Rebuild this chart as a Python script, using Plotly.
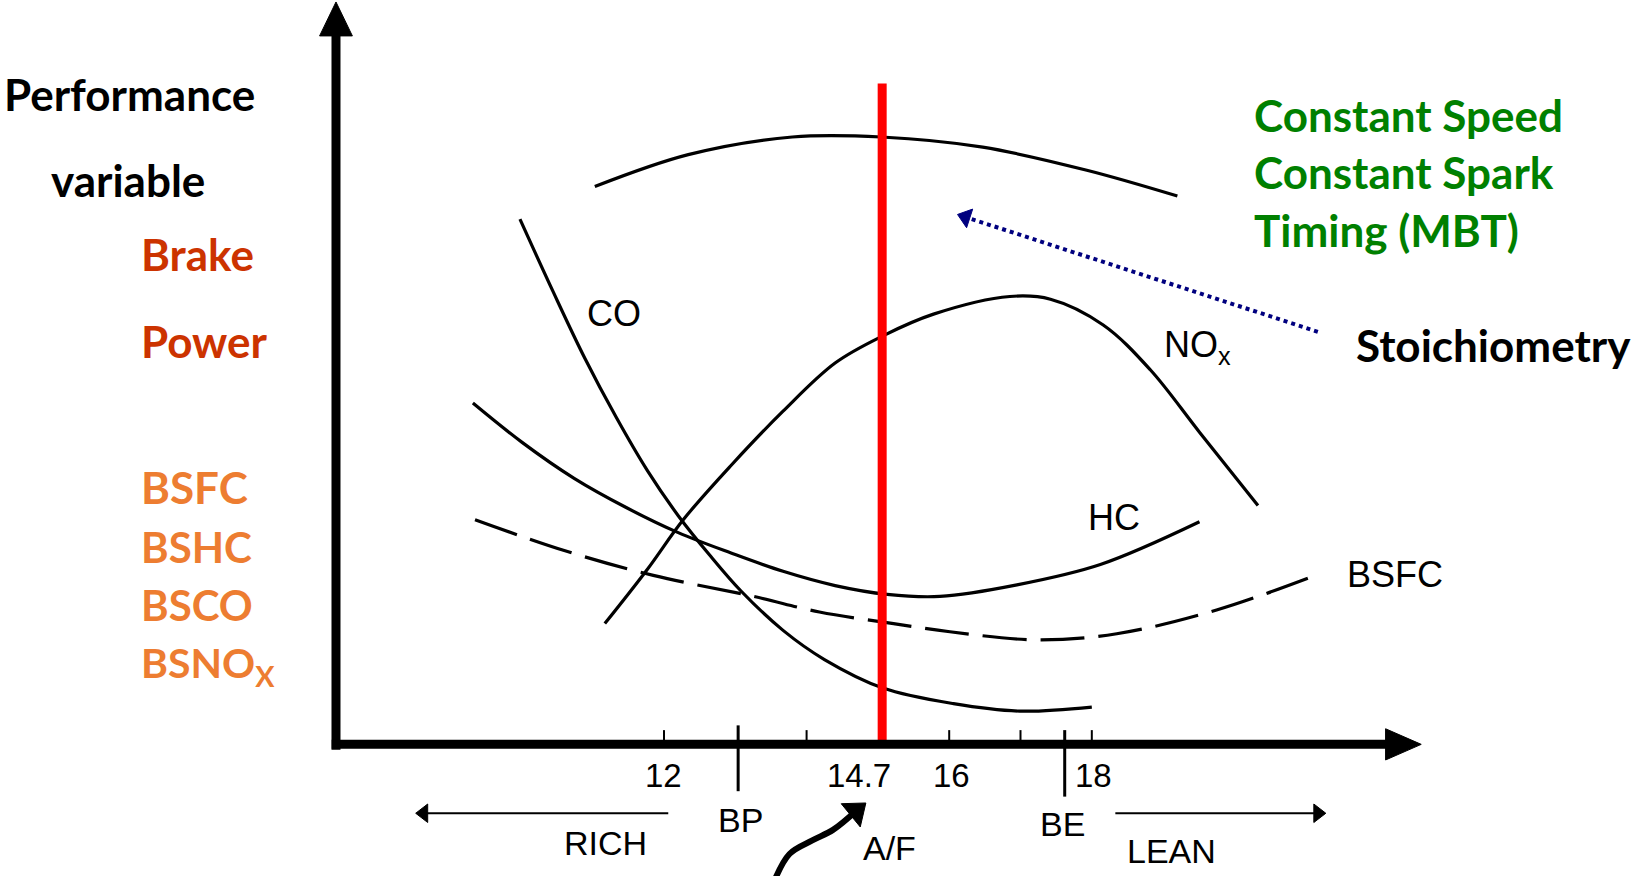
import plotly.graph_objects as go

# ---------------- data (x = air/fuel ratio, y = relative performance value) -------------
power_af = [11.03, 12.34, 13.80, 15.05, 16.47, 17.93, 19.20]
power_v = [82.2, 86.9, 89.5, 89.5, 88.0, 84.6, 80.8]

co_af = [9.98, 10.45, 10.89, 11.33, 11.77, 12.20, 12.64, 13.08, 13.67, 14.25, 15.07, 16.06, 16.99, 18.00]
co_v = [77.4, 66.6, 56.9, 48.2, 40.3, 33.7, 27.9, 22.6, 16.8, 12.5, 8.3, 6.0, 4.9, 5.5]

hc_af = [9.32, 10.01, 10.74, 11.47, 12.20, 12.94, 13.67, 14.40, 15.13, 15.87, 16.95, 18.12, 19.51]
hc_v = [50.3, 44.5, 39.2, 34.9, 31.2, 28.2, 25.5, 23.4, 22.1, 21.8, 23.5, 26.5, 32.8]

nox_af = [11.17, 11.76, 12.27, 12.94, 13.67, 14.40, 15.07, 15.78, 16.85, 17.42, 18.16, 18.82, 19.51, 20.33]
nox_v = [17.8, 25.7, 33.1, 41.1, 49.1, 56.2, 60.2, 63.4, 66.0, 65.6, 61.8, 55.2, 46.0, 35.2]

bsfc_af = [9.35, 10.59, 11.85, 13.26, 14.18, 15.22, 16.01, 17.23, 18.35, 19.75, 21.21]
bsfc_v = [33.1, 28.6, 24.9, 21.8, 19.5, 17.8, 16.6, 15.4, 16.3, 19.8, 25.2]

stoich_af = 15.06          # red line as drawn
stoich_top = 97.4
minor_ticks = [12, 14, 16, 17, 18]
tick_labels = ["12", "14.7", "16", "18"]
tick_label_pos = [12.0, 14.74, 16.03, 18.02]
bp_af, be_af = 13.04, 17.62

navy_af = [21.17, 16.23]
navy_v = [60.8, 77.7]

curl_af = [13.54, 13.76, 14.08, 14.37, 14.69]
curl_v = [-20.3, -16.15, -14.15, -12.6, -9.85]

rich_af = [12.06, 8.63]
lean_af = [18.33, 21.17]
dir_arrow_v = -10.15

# ---------------- plot geometry in data units ----------------
X_RANGE = [2.688, 25.646]
Y_RANGE = [-19.397, 109.692]
YAXIS_AF = 7.40

BLACK = "#000000"
NAVY = "#00007F"
SCAN_FONT = "Liberation Sans"
BOLD_FONT = "Lato"

fig = go.Figure()

def curve(xs, ys, dash="solid", width=3.2):
    fig.add_trace(go.Scatter(x=xs, y=ys, mode="lines",
                             line=dict(color=BLACK, width=width, shape="spline", smoothing=1.0, dash=dash),
                             hoverinfo="skip", showlegend=False))

curve(power_af, power_v)
curve(co_af, co_v)
curve(hc_af, hc_v)
curve(nox_af, nox_v)
curve(bsfc_af, bsfc_v, dash="44px,14px")

# stoichiometric red line
fig.add_trace(go.Scatter(x=[stoich_af, stoich_af], y=[0.6, stoich_top], mode="lines",
                         line=dict(color="#FF0000", width=9), hoverinfo="skip", showlegend=False))


def arrow_trace(xs, ys, color, width, head, dash="solid", shape="linear"):
    sizes = [0] * (len(xs) - 1) + [head]
    fig.add_trace(go.Scatter(x=xs, y=ys, mode="lines+markers",
                             line=dict(color=color, width=width, dash=dash, shape=shape),
                             marker=dict(symbol="triangle-up", size=sizes, color=color, opacity=1,
                                         angleref="previous", line=dict(width=1, color=color)),
                             hoverinfo="skip", showlegend=False))

# navy dotted arrow
arrow_trace(navy_af, navy_v, NAVY, 4, 17, dash="dot")
# curved thick arrow pointing to 14.7
arrow_trace(curl_af, curl_v, BLACK, 6, 26, shape="spline")
# rich / lean arrows
arrow_trace(rich_af, [dir_arrow_v] * 2, BLACK, 2, 16)
arrow_trace(lean_af, [dir_arrow_v] * 2, BLACK, 2, 16)

shapes = []
# axes
shapes.append(dict(type="line", xref="x", yref="y", x0=YAXIS_AF, x1=YAXIS_AF, y0=-0.8, y1=105,
                   line=dict(color=BLACK, width=9)))
shapes.append(dict(type="line", xref="x", yref="y", x0=YAXIS_AF - 0.06, x1=22.2, y0=0, y1=0,
                   line=dict(color=BLACK, width=9)))
# arrow heads
shapes.append(dict(type="path", xref="x", yref="y",
                   path=f"M {YAXIS_AF-0.23},104.4 L {YAXIS_AF+0.23},104.4 L {YAXIS_AF},109.4 Z",
                   fillcolor=BLACK, line=dict(color=BLACK, width=1)))
shapes.append(dict(type="path", xref="x", yref="y",
                   path="M 22.12,2.3 L 22.12,-2.3 L 22.62,0 Z",
                   fillcolor=BLACK, line=dict(color=BLACK, width=1)))
# minor ticks
for t in minor_ticks:
    shapes.append(dict(type="line", xref="x", yref="y", x0=t, x1=t, y0=0, y1=2.1,
                       line=dict(color=BLACK, width=2)))
# BP / BE ticks
shapes.append(dict(type="line", xref="x", yref="y", x0=bp_af, x1=bp_af, y0=2.8, y1=-6.9,
                   line=dict(color=BLACK, width=3)))
shapes.append(dict(type="line", xref="x", yref="y", x0=be_af, x1=be_af, y0=2.1, y1=-7.7,
                   line=dict(color=BLACK, width=3)))

ann = []

def text(x, y, s, size, color=BLACK, family=SCAN_FONT, anchor="left", bold=False):
    if bold:
        s = f"<b>{s}</b>"
    ann.append(dict(x=x, y=y, xref="x", yref="y", text=s, showarrow=False,
                    xanchor=anchor, yanchor="middle",
                    font=dict(size=size, color=color, family=family)))

# left block
RED_ORANGE = "#CC3300"
ORANGE = "#ED7D31"
GREEN = "#008000"
BS = 44
text(2.72, 95.9, "Performance", BS, family=BOLD_FONT, bold=True)
text(3.38, 83.1, "variable", BS, family=BOLD_FONT, bold=True)
text(4.64, 72.3, "Brake", BS, RED_ORANGE, BOLD_FONT, bold=True)
text(4.64, 59.5, "Power", BS, RED_ORANGE, BOLD_FONT, bold=True)
text(4.64, 38.0, "BSFC", BS, ORANGE, BOLD_FONT, bold=True)
text(4.64, 29.1, "BSHC", 42, ORANGE, BOLD_FONT, bold=True)
text(4.64, 20.5, "BSCO", 42, ORANGE, BOLD_FONT, bold=True)
text(4.64, 11.6, "BSNO<sub>X</sub>", 41, ORANGE, BOLD_FONT, bold=True)

# right block
text(20.25, 92.8, "Constant Speed", BS, GREEN, BOLD_FONT, bold=True)
text(20.25, 84.3, "Constant Spark", BS, GREEN, BOLD_FONT, bold=True)
text(20.25, 75.8, "Timing (MBT)", BS, GREEN, BOLD_FONT, bold=True)
text(21.68, 58.9, "Stoichiometry", BS, BLACK, BOLD_FONT, bold=True)

# curve labels
text(10.89, 63.5, "CO", 36)
text(18.98, 58.6, "NO<sub>x</sub>", 36)
text(17.92, 33.5, "HC", 36)
text(21.55, 25.1, "BSFC", 36)

# tick labels
for pos, lab in zip(tick_label_pos, tick_labels):
    text(pos, -4.6, lab, 33, anchor="center")
text(13.08, -11.1, "BP", 34, anchor="center")
text(17.59, -11.8, "BE", 34, anchor="center")
text(11.18, -14.6, "RICH", 34, anchor="center")
text(15.16, -15.2, "A/F", 34, anchor="center")
text(19.12, -15.7, "LEAN", 34, anchor="center")

fig.update_layout(
    width=1637, height=876,
    margin=dict(l=0, r=0, t=0, b=0),
    paper_bgcolor="white", plot_bgcolor="white",
    xaxis=dict(range=X_RANGE, visible=False, fixedrange=True),
    yaxis=dict(range=Y_RANGE, visible=False, fixedrange=True),
    shapes=shapes, annotations=ann, showlegend=False,
)

fig.write_html("out.html")
